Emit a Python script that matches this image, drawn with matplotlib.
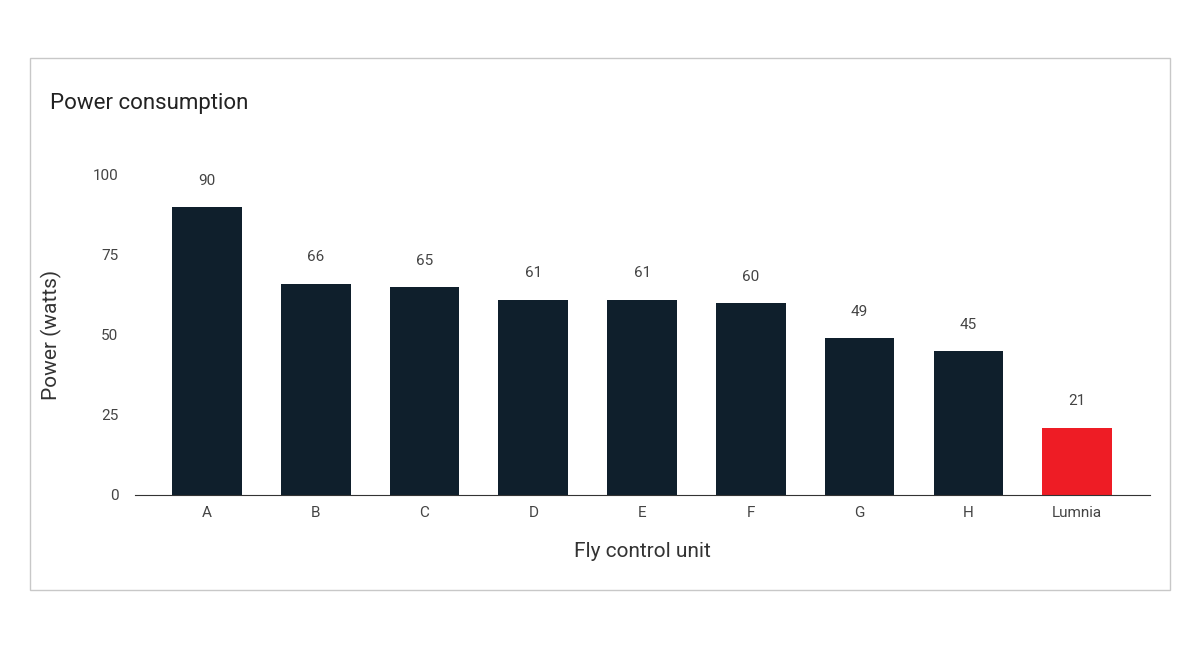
import matplotlib
matplotlib.use("Agg")
import matplotlib.pyplot as plt
from matplotlib.patches import Rectangle

categories = ["A", "B", "C", "D", "E", "F", "G", "H", "Lumnia"]
values = [90, 66, 65, 61, 61, 60, 49, 45, 21]
colors = ["#0f1f2c"] * 8 + ["#ee1c25"]
yticks = [0, 25, 50, 75, 100]

plt.rcParams['font.family'] = ['Roboto', 'DejaVu Sans']
fig = plt.figure(figsize=(12, 6.5), dpi=100)
fig.patches.append(Rectangle((30/1200, 1-590/650), 1140/1200, 532/650,
                             transform=fig.transFigure, fill=False,
                             edgecolor="#c8c8c8", linewidth=1))
ax = fig.add_axes([135/1200, 1-495/650, 1015/1200, 320/650])
x = range(len(categories))
ax.bar(x, values, width=0.64, color=colors)
for i, v in zip(x, values):
    ax.annotate(str(v), (i, v), xytext=(0, 14), textcoords="offset points",
                ha="center", va="bottom", fontsize=11, color="#444444")
ax.set_xlim(-0.662, 8.67)
ax.set_ylim(0, 100)
ax.set_yticks(yticks)
ax.set_xticks(list(x))
ax.set_xticklabels(categories)
ax.tick_params(axis="both", length=0, labelsize=11, colors="#444444")
ax.tick_params(axis="y", pad=12)
ax.tick_params(axis="x", pad=8)
for s in ["top", "right", "left"]:
    ax.spines[s].set_visible(False)
ax.spines["bottom"].set_color("#333333")
ax.set_ylabel("Power (watts)", fontsize=15, color="#333333", labelpad=22)
ax.set_xlabel("Fly control unit", fontsize=15, color="#333333", labelpad=16)
fig.text(50/1200, 1-103/650, "Power consumption", fontsize=16, color="#222222",
         va="center", ha="left")
fig.savefig("out.png", dpi=100)
